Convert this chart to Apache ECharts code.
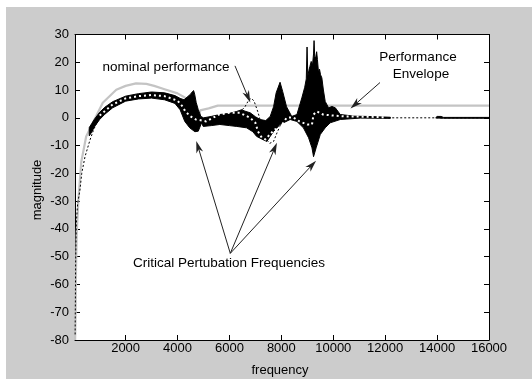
<!DOCTYPE html>
<html><head><meta charset="utf-8">
<script src="https://cdn.jsdelivr.net/npm/echarts@6/dist/echarts.min.js"></script>
<style>html,body{margin:0;padding:0;background:#fff}#c{width:532px;height:379px}</style>
</head><body><div id="c"></div>
<script>
const xTicks = [2000, 4000, 6000, 8000, 10000, 12000, 14000, 16000];

const envelope = [[55,-80],[75,-70],[88,-55],[115,-42],[177,-30],[290,-16],[480,-6.7],[740,-1.8],[1120,5.4],[1640,10.1],[2000,11.5],[2400,12.4],[2800,12.2],[3100,11.5],[3500,10.3],[4000,8.8],[4300,7.2],[4450,5.5],[4650,2.5],[4850,0.5],[4870,2.7],[5200,3.4],[5550,4.4],[16000,4.4]];

const nominal = [[55,-78],[62,-70],[75,-52],[100,-38],[150,-31],[240,-26],[310,-20],[435,-14],[627,-8],[755,-4.6],[900,-1.5],[1120,2],[1500,5],[2000,7.2],[2800,8.5],[3500,8],[4000,6.5],[4200,5],[4400,2],[4600,-0.5],[4800,-1.5],[5000,-1],[5600,0.5],[6000,1],[6400,2],[6600,4],[6750,6.5],[6850,7],[6950,6],[7100,2],[7250,-3],[7400,-7.5],[7550,-9.2],[7700,-8.5],[7850,-5],[8000,-2],[8200,0],[8500,0.5],[8800,-1.5],[9000,-2.5],[9200,-1],[9300,2],[9500,1.5],[10000,0.8],[11000,0.3],[12000,0],[16000,0]];

const bandUpper = [[600,-3.5],[700,-2],[800,-0.5],[1000,2],[1200,3.8],[1500,5.8],[2000,7.8],[2500,8.7],[3000,9.3],[3500,9],[3900,8],[4100,7],[4250,6.5],[4400,7.7],[4500,8.5],[4580,9.5],[4620,9.8],[4660,8.5],[4720,5.5],[4800,2.9],[4900,0.5],[5000,0],[5300,0.5],[5630,1.2],[6000,1.6],[6280,2.3],[6470,2.9],[6600,2.4],[6800,1.8],[7000,0.4],[7180,-0.6],[7400,-1],[7570,0.5],[7700,4],[7800,9],[7950,12.8],[8050,9.5],[8200,4],[8400,0.5],[8600,1.2],[8790,7.2],[8900,11],[8960,14],[8990,25.5],[9020,15],[9060,17],[9100,18.5],[9150,20.3],[9200,19],[9240,23],[9260,27.8],[9285,22],[9320,21.5],[9360,23.8],[9390,21],[9430,16.5],[9470,17.5],[9510,15.5],[9560,14.4],[9620,10],[9690,5.9],[9820,3.6],[9950,4.1],[10080,3.6],[10270,1.2],[10800,0.6],[11300,0.5],[12200,0.2]];

const bandLower = [[600,-6.5],[700,-5],[800,-3.2],[1000,-0.6],[1200,1.3],[1500,3.6],[2000,6],[2500,6.8],[3000,7.1],[3500,6.5],[3900,5.2],[4100,2.9],[4280,-1.3],[4470,-3.6],[4670,-5],[4800,-4.8],[4926,-1.8],[4990,-3.1],[5300,-2.8],[5630,-2.4],[6000,-2.8],[6280,-3.1],[6660,-3.6],[6900,-5],[7050,-6.7],[7300,-7.9],[7440,-8.5],[7570,-6.7],[7700,-4.9],[7950,-2.4],[8340,-0.6],[8600,-1.3],[8850,-3.6],[9050,-7.2],[9180,-10.8],[9240,-14],[9340,-10.8],[9500,-6],[9690,-3.6],[9880,-1.8],[10270,-0.6],[11040,-0.1],[12200,-0.2]];

const tailUpper = [[13950,0.05],[14000,0.5],[14150,0.5],[14250,0.15],[16000,0.15]];
const tailLower = [[13950,-0.05],[14250,-0.15],[16000,-0.15]];

const whiteDots = [[1000,0.8],[1500,4.8],[2000,7],[2500,7.8],[3000,8.2],[3500,7.8],[4000,6.2],[4200,4],[4300,2.3],[4500,0.5],[4700,-0.6],[4850,-0.8],[5100,-1.3],[5600,1.2],[6000,1.8],[6400,1.8],[6800,0],[7000,-1.8],[7100,-4.9],[7250,-7.2],[7400,-7.8],[7550,-6],[7750,-4.2],[7950,-3.6],[8200,0],[8450,0.2],[8700,-1.3],[9000,-2.4],[9180,-2.4],[9240,1.2],[9370,2.3],[9600,1.2],[10000,0.8],[10500,0.5],[11300,0.4],[12000,0.2]];

const critApex = [6033, -48.8];
const critTargets = [[4789, -10.4], [7740, -11], [9181, -17]];
const nominalArrow = [[6214, 18.7], [6715, 7.5]];
const envelopeArrow = [[11801, 12.7], [10838, 4.8]];

const FONT = '"Liberation Sans", Arial, sans-serif';
const chart = echarts.init(document.getElementById('c'), null, {renderer: 'canvas'});

const axisCommon = {
  type: 'value', gridIndex: 0,
  axisLine: {show: true, onZero: false, lineStyle: {color: '#000', width: 1}},
  splitLine: {show: false}
};

const arrowLines = critTargets.map(t => [{coord: critApex}, {coord: t}])
  .concat([[{coord: nominalArrow[0]}, {coord: nominalArrow[1]}], [{coord: envelopeArrow[0]}, {coord: envelopeArrow[1]}]]);

const ANN = '13.5px ' + FONT;

chart.setOption({
  animation: false,
  backgroundColor: '#fff',
  grid: {left: 75, right: 43, top: 34.5, bottom: 39, containLabel: false},
  graphic: [
    {type: 'rect', z: -20, shape: {x: 6, y: 7, width: 526, height: 372}, style: {fill: '#cccccc'}},
    {type: 'rect', z: -19, shape: {x: 75, y: 34.5, width: 414, height: 305.5}, style: {fill: '#ffffff'}},
    {type: 'text', x: 166, y: 67, style: {text: 'nominal performance', font: ANN, fill: '#000', textAlign: 'center', textVerticalAlign: 'middle'}},
    {type: 'text', x: 418, y: 57, style: {text: 'Performance', font: ANN, fill: '#000', textAlign: 'center', textVerticalAlign: 'middle'}},
    {type: 'text', x: 421, y: 74, style: {text: 'Envelope', font: ANN, fill: '#000', textAlign: 'center', textVerticalAlign: 'middle'}},
    {type: 'text', x: 229, y: 263.5, style: {text: 'Critical Pertubation Frequencies', font: ANN, fill: '#000', textAlign: 'center', textVerticalAlign: 'middle'}},
    {type: 'text', x: 280, y: 370, style: {text: 'frequency', font: '13px ' + FONT, fill: '#000', textAlign: 'center', textVerticalAlign: 'middle'}},
    {type: 'text', x: 37, y: 190, rotation: Math.PI / 2, style: {text: 'magnitude', font: '13px ' + FONT, fill: '#000', textAlign: 'center', textVerticalAlign: 'middle'}}
  ],
  xAxis: [
    Object.assign({}, axisCommon, {
      position: 'bottom', min: 50, max: 16000,
      axisTick: {show: true, inside: true, length: 5, customValues: xTicks, lineStyle: {color: '#000'}},
      axisLabel: {show: true, customValues: xTicks, color: '#000', fontSize: 13, fontFamily: FONT, margin: 2, formatter: v => String(v)}
    }),
    Object.assign({}, axisCommon, {
      position: 'top', min: 50, max: 16000,
      axisTick: {show: true, inside: true, length: 5, customValues: xTicks, lineStyle: {color: '#000'}},
      axisLabel: {show: false}
    })
  ],
  yAxis: [
    Object.assign({}, axisCommon, {
      position: 'left', min: -80, max: 30, interval: 10,
      axisTick: {show: true, inside: true, length: 5, lineStyle: {color: '#000'}},
      axisLabel: {show: true, color: '#000', fontSize: 13, fontFamily: FONT, margin: 6, formatter: v => String(v)}
    }),
    Object.assign({}, axisCommon, {
      position: 'right', min: -80, max: 30, interval: 10,
      axisTick: {show: true, inside: true, length: 5, lineStyle: {color: '#000'}},
      axisLabel: {show: false}
    })
  ],
  series: [
    {
      name: 'Performance Envelope', type: 'line', data: envelope, showSymbol: false, silent: true, z: 2,
      lineStyle: {color: '#c4c4c4', width: 2.2}, clip: true
    },
    {
      name: 'Perturbed', type: 'custom', silent: true, z: 3, clip: true,
      data: [bandUpper[0]],
      renderItem: function (params, api) {
        if (params.dataIndex !== 0) return;
        const poly = (up, lo) => up.map(p => api.coord(p)).concat(lo.slice().reverse().map(p => api.coord(p)));
        return {
          type: 'group', children: [
            {type: 'polygon', shape: {points: poly(bandUpper, bandLower)}, style: {fill: '#000', stroke: '#000', lineWidth: 1}},
            {type: 'polygon', shape: {points: poly(tailUpper, tailLower)}, style: {fill: '#000', stroke: '#000', lineWidth: 1}}
          ]
        };
      }
    },
    {
      name: 'nominal performance', type: 'line', data: nominal, showSymbol: false, silent: true, z: 4,
      lineStyle: {color: '#000', width: 1, type: [2, 2]}, clip: true
    },
    {
      name: 'centre', type: 'line', data: whiteDots, showSymbol: false, silent: true, z: 5,
      lineStyle: {color: '#fff', width: 2, type: [2, 3]}, clip: true,
      markLine: {
        silent: true, symbol: ['none', 'path://M5,0 L10,14 L5,10 L0,14 Z'], symbolSize: [7, 12],
        label: {show: false},
        lineStyle: {color: '#222', width: 1, type: 'solid'},
        emphasis: {disabled: true},
        data: arrowLines
      }
    }
  ]
});
</script></body></html>
